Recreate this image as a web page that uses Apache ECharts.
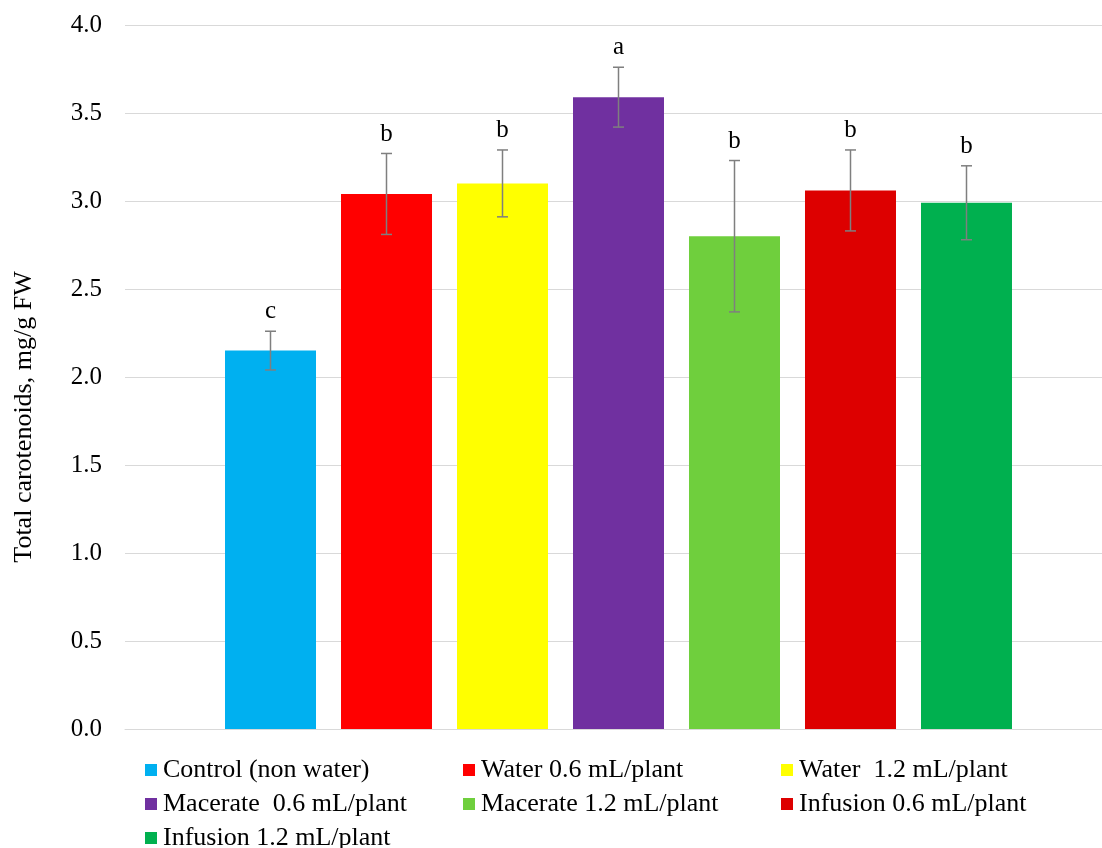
<!DOCTYPE html>
<html>
<head>
<meta charset="utf-8">
<title>Total carotenoids</title>
<script src="https://cdn.jsdelivr.net/npm/echarts@6/dist/echarts.min.js"></script>
<style>
  html, body { margin: 0; padding: 0; background: #ffffff; }
  #chart { width: 1102px; height: 848px; }
</style>
</head>
<body>
<div id="chart"></div>
<script>
// Treatments, in plotting order
const treatments = [
  'Control (non water)',
  'Water 0.6 mL/plant',
  'Water  1.2 mL/plant',
  'Macerate  0.6 mL/plant',
  'Macerate 1.2 mL/plant',
  'Infusion 0.6 mL/plant',
  'Infusion 1.2 mL/plant'
];
// Mean total carotenoids (mg/g FW)
const means = [2.15, 3.04, 3.10, 3.59, 2.80, 3.06, 2.99];
// Error bar half-lengths
const errors = [0.11, 0.23, 0.19, 0.17, 0.43, 0.23, 0.21];
// Significance letters
const letters = ['c', 'b', 'b', 'a', 'b', 'b', 'b'];
const colors = ['#00B0F0', '#FF0000', '#FFFF00', '#7030A0', '#6FCF3D', '#DD0000', '#00B04F'];

// y axis ticks
const yMin = 0, yMax = 4, yStep = 0.5;

const FONT = '"Liberation Serif", "Times New Roman", serif';
const BAR_W = 91;      // px
const BAR_GAP = 25;    // px between adjacent bars

const chart = echarts.init(document.getElementById('chart'));

const barSeries = treatments.map((name, i) => ({
  name: name,
  type: 'bar',
  data: [means[i]],
  barWidth: BAR_W,
  barGap: (BAR_GAP / BAR_W * 100).toFixed(2) + '%',
  itemStyle: { color: colors[i] },
  emphasis: { disabled: true }
}));

const errorData = treatments.map((t, i) => [0, means[i] - errors[i], means[i] + errors[i], i]);

const errorSeries = {
  type: 'custom',
  name: 'error',
  data: errorData,
  encode: { x: 0, y: [1, 2] },
  z: 10,
  silent: true,
  renderItem: function (params, api) {
    const idx = api.value(3);
    const n = treatments.length;
    const base = api.coord([0, api.value(1)]);
    const top = api.coord([0, api.value(2)]);
    const x = base[0] + (idx - (n - 1) / 2) * (BAR_W + BAR_GAP);
    const cap = 5.5;
    const style = { stroke: '#7F7F7F', lineWidth: 1.5 };
    return {
      type: 'group',
      children: [
        { type: 'line', shape: { x1: x, y1: base[1], x2: x, y2: top[1] }, style: style },
        { type: 'line', shape: { x1: x - cap, y1: top[1], x2: x + cap, y2: top[1] }, style: style },
        { type: 'line', shape: { x1: x - cap, y1: base[1], x2: x + cap, y2: base[1] }, style: style },
        {
          type: 'text',
          style: {
            x: x, y: top[1] - 7,
            text: letters[idx],
            fill: '#000000',
            font: '25px ' + FONT,
            align: 'center',
            verticalAlign: 'bottom'
          }
        }
      ]
    };
  }
};

const legendCols = [[0, 3, 6], [1, 4], [2, 5]];
const legendLeft = [145, 463, 781];
const legends = legendCols.map((col, c) => ({
  orient: 'vertical',
  left: legendLeft[c],
  top: 757,
  height: 110,
  itemWidth: 12,
  itemHeight: 12,
  itemGap: 8,
  icon: 'rect',
  padding: 0,
  selectedMode: false,
  data: col.map(i => treatments[i]),
  textStyle: { fontFamily: FONT, fontSize: 26, color: '#000000', lineHeight: 26, padding: [0, 0, 0, 1] }
}));

chart.setOption({
  animation: false,
  backgroundColor: '#ffffff',
  grid: { left: 125, width: 987, top: 25, bottom: 119, outerBoundsMode: 'none', containLabel: false },
  legend: legends,
  xAxis: {
    type: 'category',
    data: [''],
    axisLine: { show: true, lineStyle: { color: '#D9D9D9', width: 1 } },
    axisTick: { show: false },
    axisLabel: { show: false }
  },
  yAxis: {
    type: 'value',
    min: yMin,
    max: yMax,
    interval: yStep,
    axisLine: { show: false },
    axisTick: { show: false },
    splitLine: { show: true, lineStyle: { color: '#D9D9D9', width: 1 } },
    axisLabel: {
      margin: 23,
      fontFamily: FONT,
      fontSize: 25,
      color: '#000000',
      formatter: v => v.toFixed(1)
    }
  },
  graphic: [{
    type: 'text',
    x: 24,
    y: 417,
    rotation: Math.PI / 2,
    style: {
      text: 'Total carotenoids, mg/g FW',
      font: '26px ' + FONT,
      fill: '#000000',
      align: 'center',
      verticalAlign: 'middle'
    }
  }],
  series: barSeries.concat([errorSeries])
});
</script>
</body>
</html>
